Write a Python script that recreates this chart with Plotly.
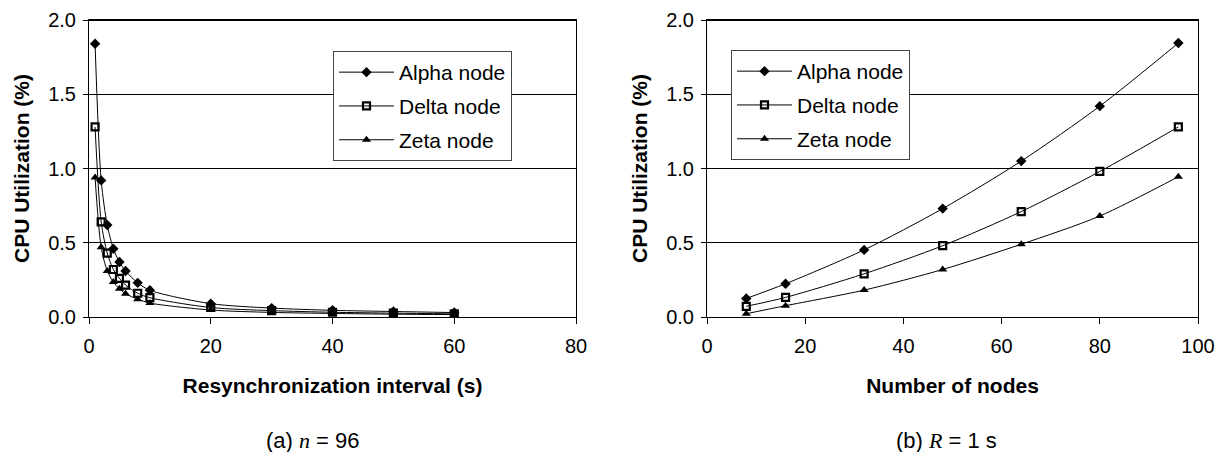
import plotly.graph_objects as go

# (a) CPU utilization vs. resynchronization interval, n = 96
interval_s = [1, 2, 3, 4, 5, 6, 8, 10, 20, 30, 40, 50, 60]
alpha_a = [1.84, 0.92, 0.62, 0.46, 0.37, 0.31, 0.23, 0.18, 0.09, 0.06, 0.045, 0.037, 0.03]
delta_a = [1.28, 0.64, 0.43, 0.32, 0.26, 0.215, 0.16, 0.13, 0.064, 0.043, 0.032, 0.026, 0.021]
zeta_a = [0.94, 0.47, 0.31, 0.235, 0.19, 0.157, 0.12, 0.094, 0.047, 0.031, 0.024, 0.019, 0.016]

# (b) CPU utilization vs. number of nodes, R = 1 s
nodes = [8, 16, 32, 48, 64, 80, 96]
alpha_b = [0.125, 0.224, 0.452, 0.73, 1.05, 1.42, 1.845]
delta_b = [0.072, 0.132, 0.291, 0.48, 0.71, 0.98, 1.28]
zeta_b = [0.022, 0.076, 0.181, 0.32, 0.49, 0.68, 0.945]

series_names = ["Alpha node", "Delta node", "Zeta node"]
marker_styles = [
    dict(symbol="diamond", size=8, color="black"),
    dict(symbol="square-open", size=7, color="black", line=dict(width=2.2, color="black")),
    dict(symbol="triangle-up", size=8, color="black"),
]

FONT = "Liberation Sans, Arial, sans-serif"
W, H = 1220, 452

fig = go.Figure()

panels = [
    ("x", "y", "legend", interval_s, [alpha_a, delta_a, zeta_a]),
    ("x2", "y2", "legend2", nodes, [alpha_b, delta_b, zeta_b]),
]
for xa, ya, leg, xs, ys in panels:
    for i, (name, yv, mk) in enumerate(zip(series_names, ys, marker_styles)):
        fig.add_trace(go.Scatter(
            x=xs, y=yv, name=name, mode="lines+markers",
            line=dict(color="black", width=1, shape="spline", smoothing=0.8),
            marker=mk, xaxis=xa, yaxis=ya, legend=leg,
            legendgroup=f"{leg}-{i}",
        ))

# plot-area geometry in pixels
left_a, right_a = 89, 576
left_b, right_b = 707, 1198
top, bottom = 20, 317
ydom = [1 - bottom / H, 1 - top / H]

axis_common = dict(
    showline=True, linecolor="black", linewidth=1, mirror=True,
    ticks="outside", ticklen=6, tickwidth=1, tickcolor="black",
    tickfont=dict(family=FONT, size=20, color="black"),
    showgrid=False, zeroline=False, automargin=False,
)
title_font = dict(family=FONT, size=21, color="black")
xaxis_common = dict(axis_common, ticklabelstandoff=5)
yaxis_common = dict(axis_common, range=[0, 2], dtick=0.5, tickformat=".1f",
                    showgrid=True, gridcolor="black", gridwidth=1, ticklen=5,
                    ticklabelstandoff=3,
                    title=dict(text="<b>CPU Utilization (%)</b>", font=title_font,
                               standoff=12))

legend_common = dict(
    xanchor="left", yanchor="top",
    bgcolor="white", bordercolor="#444", borderwidth=1,
    font=dict(family=FONT, size=21, color="black"),
    tracegroupgap=3.5, traceorder="grouped", itemwidth=55,
)

fig.update_layout(
    template="none",
    width=W, height=H, autosize=False,
    margin=dict(l=0, r=0, t=0, b=0, pad=0, autoexpand=False),
    paper_bgcolor="white", plot_bgcolor="white",
    showlegend=True,
    xaxis=dict(xaxis_common, domain=[left_a / W, right_a / W], range=[0, 80], dtick=20,
               anchor="y",
               title=dict(text="<b>Resynchronization interval (s)</b>",
                          font=title_font, standoff=22)),
    yaxis=dict(yaxis_common, domain=ydom, anchor="x"),
    xaxis2=dict(xaxis_common, domain=[left_b / W, right_b / W], range=[0, 100], dtick=20,
                anchor="y2",
                title=dict(text="<b>Number of nodes</b>", font=title_font, standoff=22)),
    yaxis2=dict(yaxis_common, domain=ydom, anchor="x2"),
    legend=dict(legend_common, x=333 / W, y=1 - 51 / H,
                entrywidth=133, entrywidthmode="pixels"),
    legend2=dict(legend_common, x=731 / W, y=1 - 50 / H),
)

# heavier top frame on each panel
for l, r in [(left_a, right_a), (left_b, right_b)]:
    fig.add_shape(type="line", xref="paper", yref="paper",
                  x0=l / W, x1=r / W, y0=1 - top / H, y1=1 - top / H,
                  line=dict(color="black", width=2))

caption_font = dict(family=FONT, size=22, color="black")
serif_i = "font-family:Liberation Serif, Times New Roman, serif"
fig.add_annotation(text=f"(a) <i><span style='{serif_i}'>n</span></i> = 96",
                   x=313 / W, y=1 - 440 / H, xref="paper", yref="paper",
                   xanchor="center", yanchor="middle",
                   showarrow=False, font=caption_font)
fig.add_annotation(text=f"(b) <i><span style='{serif_i}'>R</span></i> = 1 s",
                   x=946 / W, y=1 - 440 / H, xref="paper", yref="paper",
                   xanchor="center", yanchor="middle",
                   showarrow=False, font=caption_font)

fig.write_html("out.html")
